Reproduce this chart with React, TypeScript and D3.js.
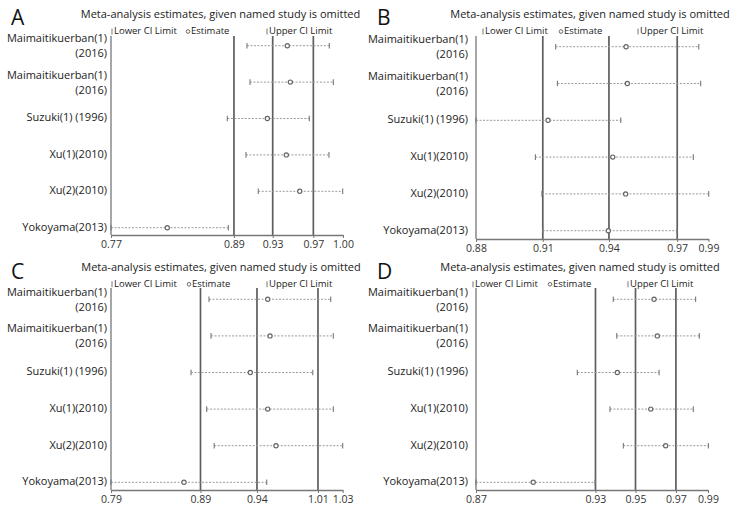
import React, { useEffect, useRef } from 'react';
import * as d3 from 'd3';

// study names (two-line labels split on \n)
const studies = [
  'Maimaitikuerban(1)\n(2016)',
  'Maimaitikuerban(1)\n(2016)',
  'Suzuki(1) (1996)',
  'Xu(1)(2010)',
  'Xu(2)(2010)',
  'Yokoyama(2013)',
];

const titleText = 'Meta-analysis estimates, given named study is omitted';
const legendLabels = ['Lower CI Limit', 'Estimate', 'Upper CI Limit'];
const panelLetters = ['A', 'B', 'C', 'D'];

// Panel A
const lowerA = [0.9048, 0.9078, 0.8853, 0.9038, 0.916, 0.77];
const estA = [0.9448, 0.9478, 0.925, 0.9438, 0.9571, 0.8258];
const upperA = [0.9864, 0.9904, 0.9666, 0.9861, 0.9997, 0.8863];
const axisA = [0.77, 0.8919, 0.9303, 0.9706, 1.0];
const tickLabelsA = ['0.77', '0.89', '0.93', '0.97', '1.00'];

// Panel B
const lowerB = [0.9177, 0.9185, 0.88, 0.9081, 0.9112, 0.9116];
const estB = [0.951, 0.9516, 0.9141, 0.9447, 0.9508, 0.9426];
const upperB = [0.9854, 0.9863, 0.9485, 0.9828, 0.9901, 0.9751];
const axisB = [0.88, 0.9116, 0.9429, 0.9752, 0.99];
const tickLabelsB = ['0.88', '0.91', '0.94', '0.97', '0.99'];

// Panel C
const lowerC = [0.8915, 0.8936, 0.8729, 0.8891, 0.8969, 0.79];
const estC = [0.9523, 0.9547, 0.9343, 0.9523, 0.9609, 0.8656];
const upperC = [1.0176, 1.0203, 0.999, 1.0203, 1.03, 0.9513];
const axisC = [0.79, 0.8827, 0.9412, 1.0044, 1.03];
const tickLabelsC = ['0.79', '0.89', '0.94', '1.01', '1.03'];

// Panel D
const lowerD = [0.941, 0.9428, 0.9224, 0.9393, 0.9462, 0.87];
const estD = [0.9621, 0.9638, 0.9431, 0.9604, 0.9681, 0.8996];
const upperD = [0.9836, 0.9855, 0.9647, 0.9824, 0.9902, 0.9316];
const axisD = [0.87, 0.9318, 0.9525, 0.9734, 0.99];
const tickLabelsD = ['0.87', '0.93', '0.95', '0.97', '0.99'];

const panels = [
  { lower: lowerA, est: estA, upper: upperA, axis: axisA, labels: tickLabelsA },
  { lower: lowerB, est: estB, upper: upperB, axis: axisB, labels: tickLabelsB },
  { lower: lowerC, est: estC, upper: upperC, axis: axisC, labels: tickLabelsC },
  { lower: lowerD, est: estD, upper: upperD, axis: axisD, labels: tickLabelsD },
];

// where each panel sits on the page
const layouts = [
  { x0: 111, x1: 343, rowTop: 45.7, rowBottom: 227.7, axisY: 235, plotTop: 36, labelRight: 107, titleX: 220.5, titleY: 15, legendY: 31.5, legendX: [111, 186, 266], letterX: 11, letterY: 25 },
  { x0: 476, x1: 708.5, rowTop: 46.7, rowBottom: 230.7, axisY: 239, plotTop: 36, labelRight: 468, titleX: 590, titleY: 15, legendY: 31.5, legendX: [482, 559, 637], letterX: 377, letterY: 25 },
  { x0: 111, x1: 342.7, rowTop: 299.3, rowBottom: 482.3, axisY: 490, plotTop: 288, labelRight: 107, titleX: 221, titleY: 268.3, legendY: 284.3, legendX: [111, 187, 266], letterX: 11, letterY: 279 },
  { x0: 476, x1: 708, rowTop: 299.3, rowBottom: 482.3, axisY: 490, plotTop: 288, labelRight: 468, titleX: 580, titleY: 268.3, legendY: 284.3, legendX: [472, 548, 627], letterX: 377, letterY: 279 },
];

const FONT = '"Open Sans", "DejaVu Sans", sans-serif';

function drawPanel(svg, p, L, letter) {
  const g = svg.append('g');
  const x = d3.scaleLinear().domain([p.axis[0], p.axis[4]]).range([L.x0, L.x1]);
  const y = d3.scalePoint().domain(d3.range(studies.length)).range([L.rowTop, L.rowBottom]);

  // panel letter
  g.append('text')
    .attr('x', L.letterX)
    .attr('y', L.letterY)
    .style('font-size', '21px')
    .attr('fill', '#111')
    .text(letter);

  // title
  g.append('text')
    .attr('x', L.titleX)
    .attr('y', L.titleY)
    .attr('text-anchor', 'middle')
    .attr('dominant-baseline', 'middle')
    .style('font-size', '11px')
    .attr('fill', '#222')
    .text(titleText);

  // legend
  const leg = g.append('g').style('font-size', '9.5px').attr('fill', '#222');
  [0, 2].forEach((k) => {
    leg.append('line')
      .attr('x1', L.legendX[k] + 1).attr('x2', L.legendX[k] + 1)
      .attr('y1', L.legendY - 3).attr('y2', L.legendY + 3)
      .attr('stroke', '#777').attr('stroke-width', 1);
  });
  leg.append('circle')
    .attr('cx', L.legendX[1] + 2).attr('cy', L.legendY)
    .attr('r', 1.8).attr('fill', 'none').attr('stroke', '#666').attr('stroke-width', 1);
  legendLabels.forEach((t, k) => {
    leg.append('text')
      .attr('x', L.legendX[k] + (k === 1 ? 5 : 3))
      .attr('y', L.legendY)
      .attr('dominant-baseline', 'middle')
      .text(t);
  });

  // reference lines (overall estimate and CI)
  g.selectAll('.ref')
    .data(p.axis.slice(1, 4))
    .join('line')
    .attr('x1', (d) => x(d)).attr('x2', (d) => x(d))
    .attr('y1', L.plotTop).attr('y2', L.axisY)
    .attr('stroke', '#5e5e5e').attr('stroke-width', 1.7);

  // y axis line
  g.append('line')
    .attr('x1', L.x0).attr('x2', L.x0)
    .attr('y1', L.plotTop).attr('y2', L.axisY)
    .attr('stroke', '#777').attr('stroke-width', 1.3);

  // x axis
  const ax = g.append('g')
    .attr('transform', `translate(0,${L.axisY})`)
    .call(
      d3.axisBottom(x)
        .tickValues(p.axis)
        .tickFormat((d, j) => p.labels[j])
        .tickSize(3)
        .tickSizeOuter(0),
    );
  ax.select('.domain').attr('stroke', '#777').attr('stroke-width', 1.3);
  ax.selectAll('.tick line').attr('stroke', '#777');
  ax.selectAll('.tick text')
    .attr('fill', '#333')
    .attr('y', 6)
    .style('font-size', '10.5px')
    .style('font-family', FONT);
  ax.attr('font-family', null).attr('font-size', null);

  // rows
  const rows = g.selectAll('.row').data(studies).join('g');
  rows.append('line')
    .attr('x1', (d, i) => x(p.lower[i]))
    .attr('x2', (d, i) => x(p.upper[i]))
    .attr('y1', (d, i) => y(i)).attr('y2', (d, i) => y(i))
    .attr('stroke', '#9a9a9a').attr('stroke-width', 1)
    .attr('stroke-dasharray', '2,1.5');
  ['lower', 'upper'].forEach((key) => {
    rows.append('line')
      .attr('x1', (d, i) => x(p[key][i])).attr('x2', (d, i) => x(p[key][i]))
      .attr('y1', (d, i) => y(i) - 2.8).attr('y2', (d, i) => y(i) + 2.8)
      .attr('stroke', '#777').attr('stroke-width', 1.1);
  });
  rows.append('circle')
    .attr('cx', (d, i) => x(p.est[i]))
    .attr('cy', (d, i) => y(i))
    .attr('r', 2.1)
    .attr('fill', 'white')
    .attr('stroke', '#666')
    .attr('stroke-width', 1.2);

  // study labels, one text per line
  rows.each(function (d, i) {
    const parts = d.split('\n');
    parts.forEach((s, j) => {
      const off = parts.length === 1 ? 0 : j === 0 ? -6.5 : 8.5;
      d3.select(this).append('text')
        .attr('x', L.labelRight)
        .attr('y', y(i) + off)
        .attr('text-anchor', 'end')
        .attr('dominant-baseline', 'middle')
        .style('font-size', '11px')
        .attr('fill', '#222')
        .text(s);
    });
  });
}

export default function App() {
  const ref = useRef(null);

  useEffect(() => {
    const svg = d3.select(ref.current);
    svg.selectAll('*').remove();
    panels.forEach((p, i) => drawPanel(svg, p, layouts[i], panelLetters[i]));
  }, []);

  return (
    <svg
      ref={ref}
      width={733}
      height={510}
      style={{ position: 'absolute', left: 0, top: 0, background: 'white', fontFamily: FONT }}
    />
  );
}
